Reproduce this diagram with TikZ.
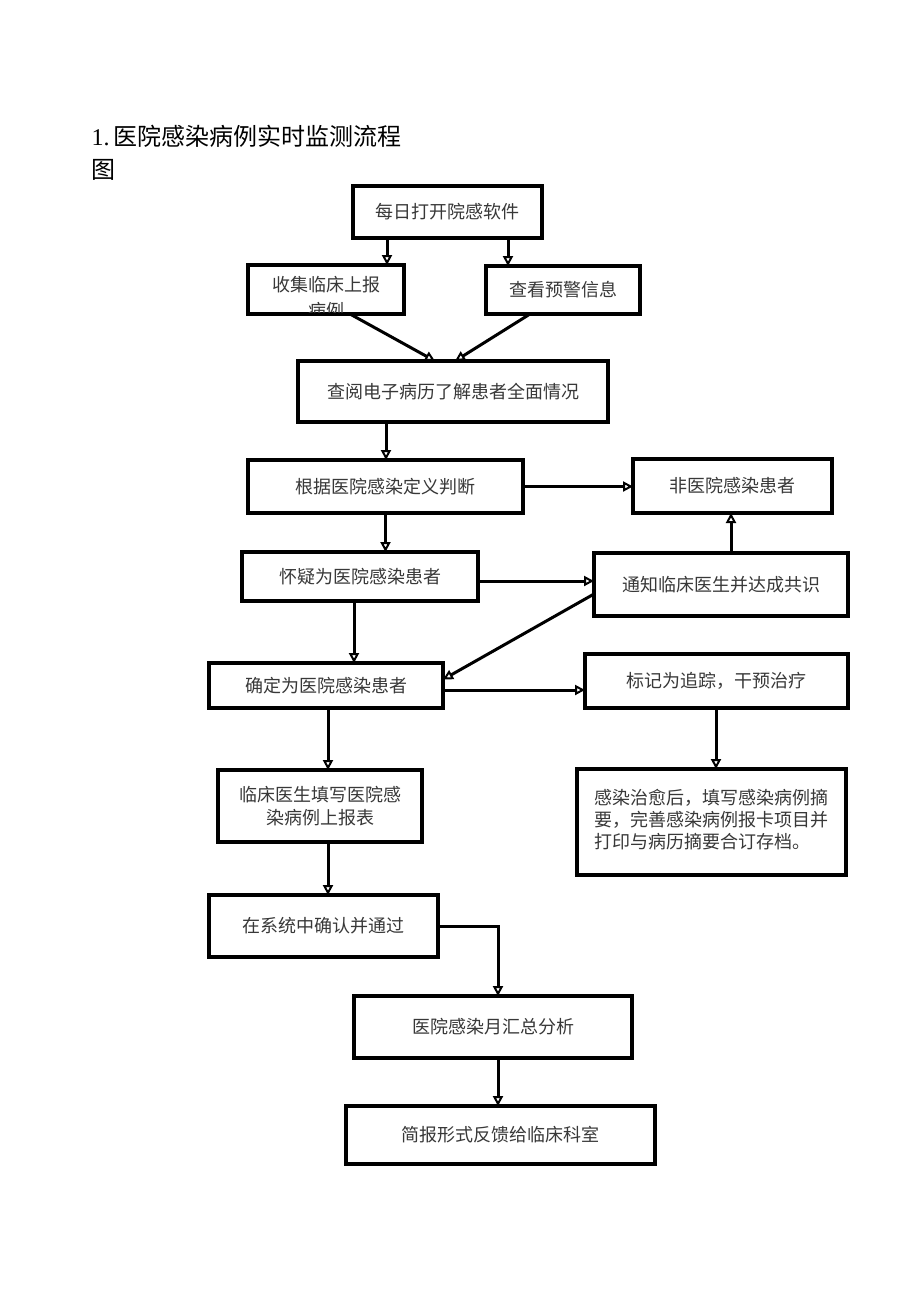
\documentclass[tikz,border=0pt]{standalone}
\usepackage{fontspec}
\setmainfont{Liberation Serif}
\newfontfamily\cjk{Noto Sans CJK SC}
\usetikzlibrary{arrows.meta}
\begin{document}
\begin{tikzpicture}[x=1pt,y=-1pt,
  boxfont/.style={font=\cjk\fontsize{18pt}{22pt}\selectfont,text=black!78},
  box/.style={draw=black,line width=3.2pt,fill=white,inner sep=0pt,outer sep=0pt,boxfont,align=center},
  arr/.style={line width=3pt,-{Triangle[open,length=10pt,width=10pt,line width=2pt]}}]
\useasboundingbox[fill=white] (0,0) rectangle (920,1301);
\node[anchor=base west,font=\fontsize{24pt}{28pt}\selectfont,text=black] (title) at (88,145) {1.\,{\cjk 医院感染病例实时监测流程}};
\node[anchor=base west,font=\cjk\fontsize{24pt}{28pt}\selectfont,text=black] (title2) at (88,178) {图};

\node[box,minimum width=189pt,minimum height=52pt] (b1) at (447.5,212) {每日打开院感软件};
\node[box,minimum width=156pt,minimum height=49pt] (b2) at (326,289.5) {};
\begin{scope}
\clip ([xshift=1.6pt,yshift=1.6pt]b2.south west) rectangle ([xshift=-1.6pt,yshift=-1.6pt]b2.north east);
\node[boxfont] (b2a) at (326,285) {收集临床上报};
\node[boxfont] (b2b) at (326,311) {病例};
\end{scope}
\node[box,minimum width=154pt,minimum height=48pt] (b3) at (563,290) {查看预警信息};
\node[box,minimum width=310pt,minimum height=61pt] (b4) at (453,391.5) {查阅电子病历了解患者全面情况};
\node[box,minimum width=275pt,minimum height=53pt] (b5) at (385.5,486.5) {根据医院感染定义判断};
\node[box,minimum width=199pt,minimum height=54pt] (b6) at (732.5,486) {非医院感染患者};
\node[box,minimum width=236pt,minimum height=49pt] (b7) at (360,576.5) {怀疑为医院感染患者};
\node[box,minimum width=254pt,minimum height=63pt] (b8) at (721,584.5) {通知临床医生并达成共识};
\node[box,minimum width=234pt,minimum height=45pt] (b9) at (326,685.5) {确定为医院感染患者};
\node[box,minimum width=263pt,minimum height=54pt] (b10) at (716.5,681) {标记为追踪，干预治疗};
\node[box,minimum width=204pt,minimum height=72pt,font=\cjk\fontsize{18pt}{23pt}\selectfont] (b11) at (320,806) {临床医生填写医院感\\染病例上报表};
\node[box,minimum width=269pt,minimum height=106pt] (b12) at (711.5,822) {\begin{tabular}{@{}l@{}}感染治愈后，填写感染病例摘\\要，完善感染病例报卡项目并\\打印与病历摘要合订存档。\end{tabular}};
\node[box,minimum width=229pt,minimum height=62pt] (b13) at (323.5,926) {在系统中确认并通过};
\node[box,minimum width=278pt,minimum height=62pt] (b14) at (493,1027) {医院感染月汇总分析};
\node[box,minimum width=309pt,minimum height=58pt] (b15) at (500.5,1135) {简报形式反馈给临床科室};

\draw[arr] ([xshift=-60.5pt]b1.south) -- ([xshift=-60.5pt]b1.south |- b2.north);
\draw[arr] ([xshift=60.5pt]b1.south) -- ([xshift=60.5pt]b1.south |- b3.north);
\draw[arr] ([xshift=24pt]b2.south) -- ([xshift=-18pt]b4.north);
\draw[arr] ([xshift=-33pt]b3.south) -- ([xshift=2pt]b4.north);
\draw[arr] ([xshift=-67pt]b4.south) -- ([xshift=-67pt]b4.south |- b5.north);
\draw[arr] (b5.east) -- (b5.east -| b6.west);
\draw[arr] (b5.south) -- (b5.south |- b7.north);
\draw[arr] ([yshift=-4.5pt]b7.east) -- ([yshift=-4.5pt]b7.east -| b8.west);
\draw[arr] ([xshift=-1.5pt]b6.south |- b8.north) -- ([xshift=-1.5pt]b6.south);
\draw[arr] ([yshift=-9.5pt]b8.west) -- ([yshift=6pt]b9.east);
\draw[arr] ([xshift=-6pt]b7.south) -- ([xshift=-6pt]b7.south |- b9.north);
\draw[arr] ([yshift=-4.5pt]b9.east) -- ([yshift=-4.5pt]b9.east -| b10.west);
\draw[arr] ([xshift=-0.5pt]b10.south) -- ([xshift=-0.5pt]b10.south |- b12.north);
\draw[arr] ([xshift=2pt]b9.south) -- ([xshift=2pt]b9.south |- b11.north);
\draw[arr] ([xshift=8pt]b11.south) -- ([xshift=8pt]b11.south |- b13.north);
\draw[arr] (b13.east) -| ([xshift=5pt]b14.north);
\draw[arr] ([xshift=5pt]b14.south) -- ([xshift=5pt]b14.south |- b15.north);
\end{tikzpicture}
\end{document}
